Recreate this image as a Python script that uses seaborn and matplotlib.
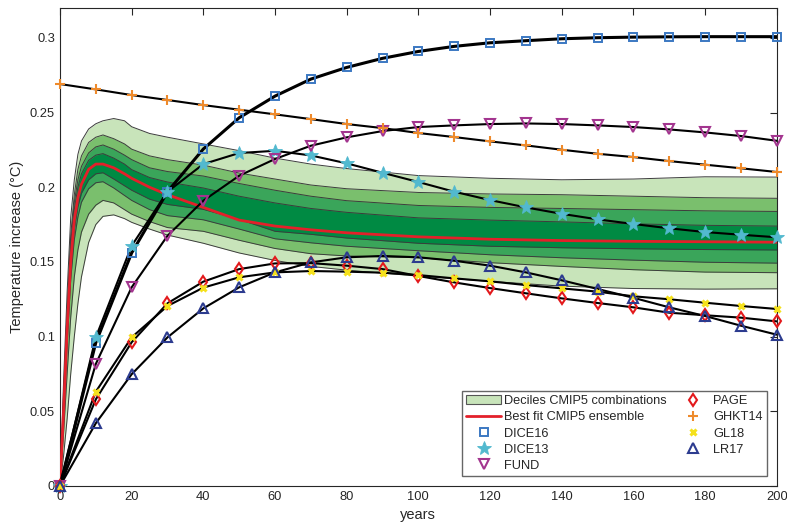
import numpy as np
import pandas as pd
import seaborn as sns
import matplotlib.pyplot as plt
from matplotlib.lines import Line2D
from matplotlib.patches import Patch

# model curves, one value every 10 years
years = [0, 10, 20, 30, 40, 50, 60, 70, 80, 90, 100, 110, 120, 130, 140, 150, 160, 170, 180, 190, 200]

dice16 = [0, 0.096, 0.156, 0.197, 0.2256, 0.2465, 0.261, 0.2724, 0.2802, 0.2863, 0.2909, 0.2943, 0.2967,
          0.2981, 0.2994, 0.3001, 0.3005, 0.3007, 0.3008, 0.3008, 0.3008]
dice13 = [0, 0.0995, 0.1608, 0.197, 0.2155, 0.2229, 0.2244, 0.2213, 0.216, 0.2097, 0.2035, 0.197, 0.1914,
          0.1865, 0.1822, 0.1785, 0.1754, 0.1725, 0.170, 0.1682, 0.1665]
fund = [0, 0.0817, 0.133, 0.1675, 0.191, 0.2077, 0.2189, 0.2278, 0.2334, 0.2376, 0.2403, 0.2414, 0.2423,
        0.2427, 0.2423, 0.2414, 0.2403, 0.2387, 0.2367, 0.2343, 0.2311]
ghkt14 = [0.2691, 0.2655, 0.2617, 0.2584, 0.255, 0.2519, 0.2488, 0.2456, 0.2423, 0.2396, 0.2363, 0.2336,
          0.2307, 0.228, 0.2251, 0.2224, 0.2202, 0.2175, 0.2151, 0.2127, 0.2102]
page = [0, 0.058, 0.0962, 0.1223, 0.1368, 0.1452, 0.149, 0.1492, 0.1475, 0.1452, 0.1406, 0.1363, 0.1325,
        0.129, 0.1256, 0.1225, 0.1196, 0.116, 0.1143, 0.1127, 0.1102]
gl18 = [0, 0.0631, 0.0995, 0.1205, 0.1328, 0.1397, 0.143, 0.1439, 0.1435, 0.1428, 0.1412, 0.139, 0.137,
        0.1345, 0.1323, 0.1301, 0.127, 0.125, 0.1227, 0.1205, 0.1185]
lr17 = [0, 0.042, 0.0748, 0.0995, 0.1189, 0.133, 0.143, 0.1497, 0.1531, 0.154, 0.1531, 0.1508, 0.1475,
        0.143, 0.1377, 0.1319, 0.126, 0.1196, 0.1138, 0.1073, 0.1013]

# CMIP5 decile envelope and best fit
band_years = [0, 1, 2, 3, 4, 5, 6, 8, 10, 12, 15, 18, 20, 25, 30, 40, 50, 60, 70, 80, 100, 120, 140, 160, 180, 200]
d90 = [0, 0.07, 0.13, 0.18, 0.205, 0.222, 0.231, 0.239, 0.2425, 0.2445, 0.246, 0.2445, 0.2405, 0.236, 0.2335,
       0.229, 0.2245, 0.2195, 0.2155, 0.2125, 0.2078, 0.206, 0.205, 0.2055, 0.207, 0.2068]
d80 = [0, 0.06, 0.118, 0.168, 0.195, 0.212, 0.221, 0.23, 0.2335, 0.235, 0.2325, 0.229, 0.2255, 0.221, 0.2185,
       0.2148, 0.2095, 0.2055, 0.2015, 0.199, 0.1965, 0.1955, 0.195, 0.194, 0.193, 0.1926]
d70 = [0, 0.056, 0.112, 0.162, 0.19, 0.205, 0.214, 0.223, 0.227, 0.2283, 0.2255, 0.2215, 0.2185, 0.213, 0.2105,
       0.2075, 0.2025, 0.198, 0.194, 0.191, 0.1878, 0.1865, 0.1858, 0.185, 0.1842, 0.1838]
d60 = [0, 0.054, 0.109, 0.157, 0.185, 0.2, 0.209, 0.218, 0.2215, 0.2225, 0.2195, 0.2155, 0.2118, 0.2065, 0.2035,
       0.1995, 0.194, 0.1895, 0.1858, 0.1832, 0.1795, 0.178, 0.1768, 0.1755, 0.1745, 0.174]
best_fit = [0, 0.05, 0.105, 0.15, 0.178, 0.193, 0.202, 0.212, 0.2155, 0.2155, 0.213, 0.209, 0.206, 0.2, 0.195,
            0.1865, 0.178, 0.174, 0.1715, 0.1695, 0.1668, 0.1652, 0.1643, 0.1638, 0.1635, 0.1632]
d40 = [0, 0.048, 0.1, 0.145, 0.172, 0.187, 0.196, 0.205, 0.209, 0.2097, 0.2055, 0.201, 0.198, 0.192, 0.1885,
       0.1852, 0.1785, 0.1705, 0.1685, 0.166, 0.1625, 0.1605, 0.1595, 0.1588, 0.1583, 0.158]
d30 = [0, 0.045, 0.095, 0.138, 0.165, 0.18, 0.19, 0.199, 0.203, 0.2037, 0.1995, 0.1945, 0.1912, 0.185, 0.181,
       0.1782, 0.172, 0.1655, 0.1628, 0.1605, 0.1575, 0.1548, 0.1528, 0.1512, 0.1498, 0.1492]
d20 = [0, 0.035, 0.075, 0.113, 0.14, 0.158, 0.17, 0.182, 0.188, 0.1912, 0.1895, 0.185, 0.182, 0.177, 0.173,
       0.1705, 0.1645, 0.159, 0.1555, 0.154, 0.1528, 0.1495, 0.147, 0.1448, 0.1432, 0.1428]
d10 = [0, 0.02, 0.045, 0.075, 0.1, 0.122, 0.14, 0.163, 0.175, 0.1805, 0.1815, 0.179, 0.1765, 0.172, 0.168,
       0.1625, 0.156, 0.151, 0.147, 0.1445, 0.1405, 0.137, 0.1338, 0.1322, 0.1318, 0.132]

x_ticks = [0, 20, 40, 60, 80, 100, 120, 140, 160, 180, 200]
y_ticks = [0, 0.05, 0.1, 0.15, 0.2, 0.25, 0.3]
y_labels = ['0', '0.05', '0.1', '0.15', '0.2', '0.25', '0.3']

sns.set_style('white')
plt.rcParams['font.family'] = ['Liberation Sans', 'DejaVu Sans']
plt.rcParams['font.size'] = 9.5

fig = plt.figure(figsize=(7.87, 5.29), dpi=100)
ax = fig.add_axes([0.0762, 0.0813, 0.9108, 0.9036])

band_colors = ['#c8e4ba', '#7abf6d', '#3aa55a', '#008a43']
lower = [d10, d20, d30, d40]
upper = [d90, d80, d70, d60]
for lo, hi, c in zip(lower, upper, band_colors):
    ax.fill_between(band_years, lo, hi, color=c, lw=0, zorder=1)
for d in [d90, d80, d70, d60, d40, d30, d20, d10]:
    sns.lineplot(x=band_years, y=d, color='#3c3c3c', lw=0.7, ax=ax, zorder=2)

sns.lineplot(x=band_years, y=best_fit, color='#e3202a', lw=2, ax=ax, zorder=3)

models = [
    ('DICE16', dice16, dict(marker='s', mec='#3b78c2', mfc='none', ms=5.5, mew=1.4), 2.2),
    ('DICE13', dice13, dict(marker='*', mec='#52b9cf', mfc='#52b9cf', ms=10, mew=0.6), 1.5),
    ('FUND', fund, dict(marker='v', mec='#a3358f', mfc='none', ms=6.5, mew=1.5), 1.5),
    ('PAGE', page, dict(marker='d', mec='#e3191c', mfc='none', ms=6.5, mew=1.5), 1.5),
    ('GHKT14', ghkt14, dict(marker='+', mec='#ee8a2b', mfc='#ee8a2b', ms=6.5, mew=1.5), 1.5),
    ('GL18', gl18, dict(marker='x', mec='#f5e11c', mfc='#f5e11c', ms=4.5, mew=2.2), 1.5),
    ('LR17', lr17, dict(marker='^', mec='#2c3b8f', mfc='none', ms=6.5, mew=1.5), 1.5),
]

handles = [Patch(facecolor=band_colors[0], edgecolor='#555555', lw=0.8, label='Deciles CMIP5 combinations'),
           Line2D([], [], color='#e3202a', lw=2, label='Best fit CMIP5 ensemble')]
for name, vals, mk, lw in models:
    sns.lineplot(x=years, y=vals, color='black', lw=lw, ax=ax, zorder=4)
    ax.plot(years, vals, ls='none', zorder=5, clip_on=False, **mk)
    handles.append(Line2D([], [], ls='none', label=name, **mk))

ax.set_xlim(0, 200)
ax.set_ylim(0, 0.32)
ax.set_xticks(x_ticks)
ax.set_yticks(y_ticks)
ax.set_yticklabels(y_labels)
ax.set_xlabel('years', color='#262626', fontsize=10.5)
ax.set_ylabel('Temperature increase (°C)', color='#262626', fontsize=10.5)
ax.tick_params(direction='in', top=True, right=True, length=5, width=0.8, colors='#262626', labelsize=9.3)
for s in ax.spines.values():
    s.set_color('#262626')
    s.set_linewidth(0.8)

ax.legend(handles=handles, ncol=2, loc='lower right', bbox_to_anchor=(1.0, 0.0), borderaxespad=0.75,
          frameon=True, fancybox=False, edgecolor='#666666', framealpha=1, fontsize=9.2,
          handlelength=2.7, labelspacing=0.33, columnspacing=0.7, borderpad=0.35, handletextpad=0.25)

fig.savefig('out.png', dpi=100)
